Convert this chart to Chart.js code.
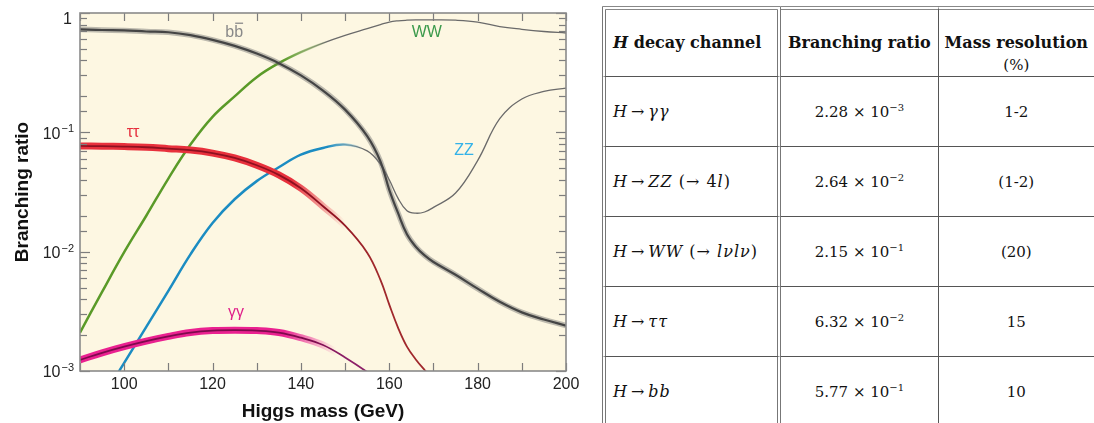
<!DOCTYPE html>
<html>
<head>
<meta charset="utf-8">
<script src="https://cdn.jsdelivr.net/npm/chart.js@4.4.1/dist/chart.umd.min.js"></script>
<style>
  html, body { margin: 0; padding: 0; background: #fff; width: 1094px; height: 423px; overflow: hidden; }
  #plot { position: absolute; left: 0; top: 0; width: 590px; height: 423px; }
  table.br { position: absolute; left: 602px; top: 6px; border-collapse: separate; border-spacing: 0;
    table-layout: fixed; font-family: "DejaVu Serif", serif; font-size: 15px; color: #111; }
  table.br th, table.br td { box-sizing: border-box; padding: 0; border-bottom: 1px solid #555;
    text-align: center; vertical-align: middle; height: 70px; white-space: nowrap; }
  table.br th { border-top: 4px double #888; height: 71px; vertical-align: top; padding-top: 22px;
    line-height: 22px; font-size: 16px; }
  table.br th .pc { font-weight: normal; font-size: 15px; }
  table.br .c1 { width: 180px; border-left: 4px double #777; border-right: 4px double #777; text-align: left; padding-left: 7px; }
  table.br td.c1 { letter-spacing: 1px; font-size: 16px; }
  table.br .op { margin: 0 3px; }
  table.br .c2 { width: 157px; }
  table.br .c3 { width: 157px; border-left: 1px solid #555; }
  table.br sup { font-size: 10px; vertical-align: 6px; }
</style>
</head>
<body>
<div id="plot"><canvas id="chart"></canvas></div>
<table class="br" id="tbl"></table>
<script>
// Higgs mass grid (GeV) and branching ratios
const mass = [90, 95, 100, 105, 110, 115, 120, 125, 130, 135, 140, 145, 150, 155, 158, 160, 162, 164, 166, 168, 170, 175, 180, 185, 190, 195, 200]
const bbBR = [0.73, 0.72, 0.715, 0.70, 0.69, 0.653, 0.596, 0.53, 0.457, 0.38, 0.30, 0.224, 0.155, 0.093, 0.057, 0.033, 0.021, 0.014, 0.011, 0.0093, 0.0082, 0.0064, 0.0049, 0.0038, 0.0031, 0.0027, 0.0024]
const wwBR = [0.0021, 0.0046, 0.0099, 0.020, 0.041, 0.079, 0.135, 0.20, 0.29, 0.38, 0.47, 0.56, 0.65, 0.74, 0.80, 0.84, 0.86, 0.87, 0.875, 0.875, 0.875, 0.87, 0.84, 0.77, 0.73, 0.70, 0.68]
const zzBR = [0.00032, 0.00059, 0.00117, 0.00234, 0.0047, 0.0095, 0.0174, 0.0275, 0.039, 0.051, 0.065, 0.074, 0.079, 0.070, 0.054, 0.040, 0.028, 0.022, 0.021, 0.0215, 0.0235, 0.031, 0.058, 0.13, 0.19, 0.22, 0.235]
const tautauBR = [0.077, 0.0765, 0.076, 0.075, 0.073, 0.071, 0.067, 0.061, 0.053, 0.044, 0.034, 0.024, 0.0165, 0.0098, 0.0058, 0.0036, 0.0023, 0.0016, 0.00125, 0.00102, 0.00085, 0.0006, null, null, null, null, null]
const gammaBR = [0.00124, 0.00142, 0.0016, 0.00178, 0.00195, 0.0021, 0.00218, 0.0022, 0.00218, 0.0021, 0.0019, 0.00165, 0.0013, 0.00098, 0.0008, null, null, null, null, null, null, null, null, null, null, null, null]

// table on the right
const channels = ['<i>H</i><span class="op">→</span><i>γγ</i>', '<i>H</i><span class="op">→</span><i>ZZ</i> (→ 4<i>l</i>)',
  '<i>H</i><span class="op">→</span><i>WW</i> (→ <i>lνlν</i>)', '<i>H</i><span class="op">→</span><i>ττ</i>', '<i>H</i><span class="op">→</span><i>bb</i>']
const ratioMantissa = ['2.28', '2.64', '2.15', '6.32', '5.77']
const ratioExponent = [-3, -2, -1, -2, -1]
const massResolution = ['1-2', '(1-2)', '(20)', '15', '10']

const tbl = document.getElementById("tbl")
let html = '<tr><th class="c1"><b><i>H</i></b> decay channel</th><th class="c2">Branching ratio</th>' +
  '<th class="c3">Mass resolution<br><span class="pc">(%)</span></th></tr>'
channels.forEach((ch, i) => {
  html += `<tr><td class="c1">${ch}</td><td class="c2">${ratioMantissa[i]} × 10<sup>−${-ratioExponent[i]}</sup></td>` +
    `<td class="c3">${massResolution[i]}</td></tr>`
})
tbl.innerHTML = html

const pts = vals => mass.map((m, i) => ({ x: m, y: vals[i] })).filter(p => p.y != null)

// horizontal colour fade between two masses
const fade = (m0, m1, c0, c1) => ctx => {
  const chart = ctx.chart
  if (!chart.chartArea) return c0
  const xs = chart.scales.x
  const g = chart.ctx.createLinearGradient(xs.getPixelForValue(m0), 0, xs.getPixelForValue(m1), 0)
  g.addColorStop(0, c0)
  g.addColorStop(1, c1)
  return g
}

const sans = "'Liberation Sans', Arial, sans-serif"

const tags = [
  { text: "bb", bar: true, x: 124.9, y: 0.69, color: "#8a8a8a" },
  { text: "WW", x: 168.5, y: 0.69, color: "#3c9a4c" },
  { text: "ττ", x: 102, y: 0.1, color: "#e6303e" },
  { text: "ZZ", x: 176.9, y: 0.07, color: "#33b2e8" },
  { text: "γγ", x: 125.3, y: 0.00306, color: "#e0208a" }
]

const isPow10 = v => Math.abs(Math.log10(v) - Math.round(Math.log10(v))) < 1e-6

const frame = {
  id: "frame",
  beforeDatasetsDraw(chart) {
    const { ctx, chartArea: a } = chart
    ctx.save()
    ctx.fillStyle = "#fdf7e2"
    ctx.fillRect(a.left, a.top, a.right - a.left, a.bottom - a.top)
    ctx.restore()
  },
  afterDraw(chart) {
    const { ctx, chartArea: a, scales: { x, y } } = chart
    ctx.save()
    ctx.strokeStyle = "#7d7d7d"
    ctx.lineWidth = 1.2
    const line = (x1, y1, x2, y2) => { ctx.beginPath(); ctx.moveTo(x1, y1); ctx.lineTo(x2, y2); ctx.stroke() }
    x.ticks.forEach(t => {
      const px = Math.round(x.getPixelForValue(t.value)) + 0.5
      line(px, a.bottom, px, a.bottom - 8)
      line(px, a.top, px, a.top + 8)
    })
    y.ticks.forEach(t => {
      const py = Math.round(y.getPixelForValue(t.value)) + 0.5
      const len = isPow10(t.value) ? 10 : 7
      line(a.left, py, a.left + len, py)
      line(a.right, py, a.right - len, py)
    })
    ctx.lineWidth = 1.6
    ctx.strokeStyle = "#8a8a8a"
    ctx.strokeRect(a.left, a.top, a.right - a.left, a.bottom - a.top)

    // y tick labels with superscript exponents
    ctx.fillStyle = "#222"
    ctx.textBaseline = "middle"
    ctx.textAlign = "right"
    y.ticks.forEach(t => {
      if (!isPow10(t.value)) return
      const py = y.getPixelForValue(t.value)
      const e = Math.round(Math.log10(t.value))
      if (e === 0) {
        ctx.font = "16px " + sans
        ctx.fillText("1", a.left - 8, py + 7)
        return
      }
      ctx.font = "11px " + sans
      const sup = "−" + (-e)
      ctx.fillText(sup, a.left - 6, py - 3)
      const w = ctx.measureText(sup).width
      ctx.font = "16px " + sans
      ctx.fillText("10", a.left - 7 - w, py + 2)
    })

    // curve names
    ctx.textAlign = "center"
    ctx.font = "16px " + sans
    tags.forEach(tg => {
      const px = x.getPixelForValue(tg.x)
      const py = y.getPixelForValue(tg.y)
      ctx.fillStyle = tg.color
      ctx.fillText(tg.text, px, py)
      if (tg.bar) {
        const w = ctx.measureText(tg.text).width
        ctx.strokeStyle = tg.color
        ctx.lineWidth = 1.3
        line(px + 1, py - 9, px + w / 2, py - 9)
      }
    })
    ctx.restore()
  }
}

new Chart(document.getElementById("chart"), {
  type: "line",
  data: {
    datasets: [
      { data: pts(bbBR), borderColor: "#444444", borderWidth: 2.2 },
      { data: pts(bbBR), borderColor: "rgba(110,110,110,0.45)", borderWidth: 5.5 },
      { data: pts(tautauBR), borderColor: fade(146, 156, "#8e1020", "#a0282c"), borderWidth: 1.8 },
      { data: pts(tautauBR), borderColor: fade(138, 150, "rgba(232,48,60,1)", "rgba(232,48,60,0)"), borderWidth: 7 },
      { data: pts(gammaBR), borderColor: fade(142, 150, "#7e0a4c", "#8c2068"), borderWidth: 1.8 },
      { data: pts(gammaBR), borderColor: fade(136, 148, "rgba(234,33,144,1)", "rgba(234,33,144,0)"), borderWidth: 7 },
      { data: pts(wwBR), borderColor: fade(136, 146, "rgba(90,154,40,1)", "rgba(90,154,40,0)"), borderWidth: 2.5 },
      { data: pts(wwBR), borderColor: fade(136, 146, "rgba(106,106,106,0)", "rgba(106,106,106,1)"), borderWidth: 1.3 },
      { data: pts(zzBR), borderColor: fade(146, 154, "rgba(27,140,194,1)", "rgba(27,140,194,0)"), borderWidth: 2.5 },
      { data: pts(zzBR), borderColor: fade(146, 154, "rgba(106,106,106,0)", "rgba(106,106,106,1)"), borderWidth: 1.3 }
    ]
  },
  options: {
    responsive: true,
    maintainAspectRatio: false,
    animation: false,
    layout: { padding: { top: 13, right: 24, left: 0, bottom: 0 } },
    elements: { point: { radius: 0 }, line: { tension: 0.4 } },
    plugins: { legend: { display: false }, tooltip: { enabled: false } },
    scales: {
      x: {
        type: "linear", min: 90, max: 200,
        grid: { display: false, drawTicks: false },
        border: { display: false },
        ticks: {
          stepSize: 10, autoSkip: false, maxRotation: 0, padding: 4,
          color: "#222", font: { family: sans, size: 16 },
          callback: v => v % 20 === 0 ? String(v) : ""
        },
        title: { display: true, text: "Higgs mass (GeV)", color: "#111",
          font: { family: sans, size: 19, weight: "bold" }, padding: { top: 0, bottom: 0 } },
        afterFit: s => { s.height = 52 }
      },
      y: {
        type: "logarithmic", min: 0.001, max: 1,
        grid: { display: false, drawTicks: false },
        border: { display: false },
        ticks: { display: false, autoSkip: false },
        title: { display: true, text: "Branching ratio", color: "#111",
          font: { family: sans, size: 19, weight: "bold" }, padding: { top: 11, bottom: 0 } },
        afterFit: s => { s.width = 80 }
      }
    }
  },
  plugins: [frame]
})
</script>
</body>
</html>
